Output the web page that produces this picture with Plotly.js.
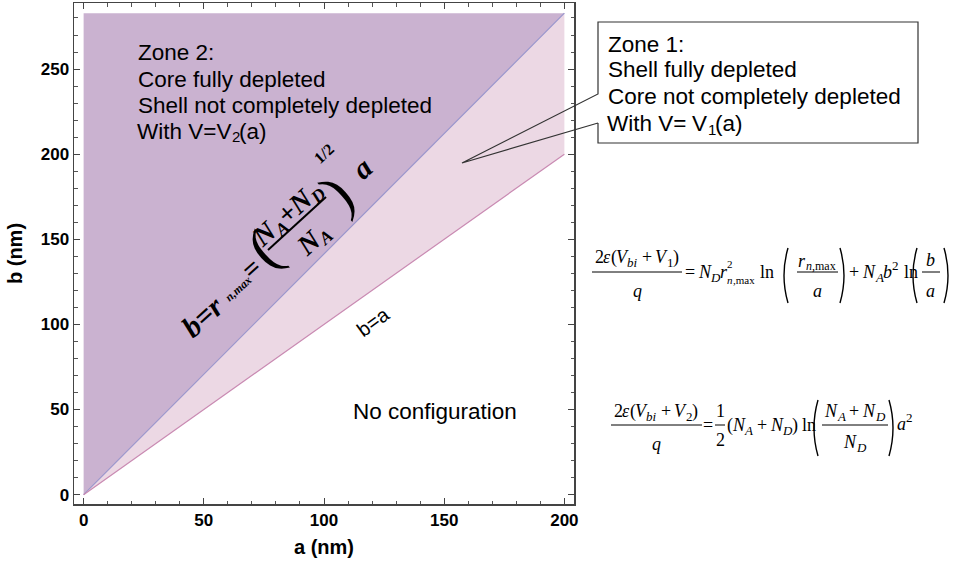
<!DOCTYPE html>
<html>
<head>
<meta charset="utf-8">
<script src="https://cdn.plot.ly/plotly-3.0.1.min.js"></script>
<style>html,body{margin:0;padding:0;background:#fff;}#chart{width:963px;height:563px;}</style>
</head>
<body>
<div id="chart"></div>
<script>
// ---- data ----
const aEnds = [0, 200];                 // a (nm) at the ends of the boundary lines
const bRmaxLine = [0, 282.84];          // b = r_max = sqrt((NA+ND)/NA) a  (NA = ND)
const bEqualLine = [0, 200];            // b = a
const xTickVals = [0, 50, 100, 150, 200];
const yTickVals = [0, 50, 100, 150, 200, 250];
const zone2Lines = ["Zone 2:", "Core fully depleted", "Shell not completely depleted"];
const zone1Lines = ["Zone 1:", "Shell fully depleted", "Core not completely depleted"];

// ---- layout helpers (pixel -> paper) ----
const W = 963, H = 563, L = 74, R = 389, T = 3, B = 59;
const PW = W - L - R, PH = H - T - B;
const px = x => (x - L) / PW;
const py = y => (H - B - y) / PH;

const sans = "Liberation Sans";
const serif = "Liberation Serif";

const annotations = [];
const shapes = [];
function ann(x, y, text, o) {
  o = o || {};
  annotations.push({
    xref: 'paper', yref: 'paper', x: px(x), y: py(y), text: text, showarrow: false, borderpad: 0,
    xanchor: o.xa || 'center', yanchor: o.ya || 'middle', textangle: o.angle || 0,
    font: { family: o.family || sans, size: o.size || 22.5, color: '#000', weight: o.weight || 'normal', style: o.style || 'normal' }
  });
}
function line(x0, y0, x1, y1, w, c) {
  shapes.push({ type: 'line', xref: 'paper', yref: 'paper', x0: px(x0), y0: py(y0), x1: px(x1), y1: py(y1),
    line: { color: c || '#000', width: w || 1 } });
}
function path(pts, w, c) {
  let d = pts.map((p, i) => (i ? 'L' : 'M') + px(p[0]) + ',' + py(p[1])).join(' ');
  shapes.push({ type: 'path', xref: 'paper', yref: 'paper', path: d, line: { color: c || '#000', width: w || 1 } });
}
function paren(xc, yt, yb, open) {
  const s = open ? 1 : -1;
  const d = 'M' + px(xc + 3 * s) + ',' + py(yt) + ' Q' + px(xc - 5 * s) + ',' + py((yt + yb) / 2) + ' ' + px(xc + 3 * s) + ',' + py(yb);
  shapes.push({ type: 'path', xref: 'paper', yref: 'paper', path: d, line: { color: '#000', width: 1.4 } });
}

// ---- text rows made of plain pieces (each piece its own sized text) ----
const cvs = document.createElement('canvas').getContext('2d');
function measure(t, size, italic, bold, family) {
  cvs.font = (italic ? 'italic ' : '') + (bold ? 'bold ' : '') + size + 'px "' + family + '"';
  return cvs.measureText(t).width;
}
// piece: {t, s(size), i(italic), dy(offset, px, downwards), gap(px), adv(false = no advance)}
function row(cx, cy, pieces, o) {
  o = o || {};
  const fam = o.family || serif, bold = !!o.bold, angle = o.angle || 0;
  const th = angle * Math.PI / 180;
  const ux = Math.cos(th), uy = Math.sin(th), nx = -Math.sin(th), ny = Math.cos(th);
  const widths = pieces.map(p => p.gap !== undefined ? p.gap : measure(p.t, p.s, p.i, bold, fam));
  const total = pieces.reduce((a, p, k) => a + (p.adv === false ? 0 : widths[k]), 0);
  let cur = o.left ? 0 : -total / 2;
  pieces.forEach((p, k) => {
    const w = widths[k];
    if (p.gap === undefined) {
      const along = cur + w / 2, d = p.dy || 0;
      ann(cx + ux * along + nx * d, cy + uy * along + ny * d, p.t,
        { family: fam, size: p.s, style: p.i ? 'italic' : 'normal', weight: bold ? 'bold' : 'normal', angle: angle });
    }
    if (p.adv !== false) cur += w;
  });
}
const E = 18, S = 13;
const n = (t, s) => ({ t: t, s: s || E });
const i = (t, s) => ({ t: t, s: s || E, i: true });
const sub = (t, it, s) => ({ t: t, s: s || S, i: !!it, dy: 5 });
const sup = (t, s) => ({ t: t, s: s || S, dy: -7 });
const g = w => ({ gap: w });

// ---- zone texts ----
const z2y = [53, 79, 105, 131];
zone2Lines.forEach((t, k) => ann(137, z2y[k], t, { xa: 'left' }));
row(137, z2y[3], [n("With V=V", 22.5), { t: "2", s: 15, dy: 6 }, n("(a)", 22.5)], { left: true, family: sans });
const z1y = [44, 70, 97, 123];
zone1Lines.forEach((t, k) => ann(607, z1y[k], t, { xa: 'left' }));
row(607, z1y[3], [n("With V=", 22.5), g(6), n("V", 22.5), { t: "1", s: 15, dy: 6 }, n("(a)", 22.5)], { left: true, family: sans });
ann(435, 411, "No configuration");
ann(373, 322, "b=a", { angle: -36, size: 20 });

// callout box
path([[598, 123], [462, 163], [598, 94], [598, 22], [918, 22], [918, 143], [598, 143], [598, 123]], 1.2, '#333');

// rotated formula along b = r_max line
const ang = -42;
const fb = { family: serif, style: 'italic', weight: 'bold', angle: ang };
ann(202, 316, "b=r", Object.assign({}, fb, { size: 30 }));
ann(238, 289, "n,max", Object.assign({}, fb, { size: 12 }));
ann(251, 268, "=", Object.assign({}, fb, { size: 28, style: 'normal' }));
ann(262, 249, "(", Object.assign({}, fb, { size: 58, style: 'normal', weight: 'normal' }));
row(287, 213, [i("N", 28), { t: "A", s: 18, i: true, dy: 8 }, n("+", 28), i("N", 28), { t: "D", s: 18, i: true, dy: 8 }],
  { angle: ang, bold: true });
row(313, 238, [i("N", 28), { t: "A", s: 18, i: true, dy: 8 }], { angle: ang, bold: true });
ann(336, 193, ")", Object.assign({}, fb, { size: 58, style: 'normal', weight: 'normal' }));
ann(324, 154, "1/2", Object.assign({}, fb, { size: 16, style: 'normal' }));
ann(361, 168, "a", Object.assign({}, fb, { size: 30 }));
line(268, 250, 326, 197, 2);

// ---- equation 1 ----
row(637, 257, [n("2"), i("ε"), n("("), i("V"), sub("bi", true), g(4), n("+"), g(4), i("V"), sub("1"), n(")")]);
line(592, 272, 682, 272, 1);
row(637, 291, [i("q")]);
row(685, 272, [n("="), g(4), i("N"), sub("D", true), i("r"), { t: "2", s: 11, dy: -8, adv: false },
  { t: "n", s: 11, i: true, dy: 8 }, { t: ",max", s: 11, dy: 8 }, g(5), n("ln")], { left: true });
paren(785, 248, 303, true);
row(817, 261, [i("r"), sub("n", true, 12), sub(",max", false, 12)]);
line(797, 272, 838, 272, 1);
row(817, 291, [i("a")]);
paren(843, 248, 303, false);
row(849, 272, [n("+"), g(4), i("N"), sub("A", true), i("b"), sup("2"), g(5), n("ln")], { left: true });
paren(914, 248, 303, true);
row(930, 260, [i("b")]);
line(922, 272, 940, 272, 1);
row(930, 291, [i("a")]);
paren(947, 248, 303, false);

// ---- equation 2 ----
row(656, 411, [n("2"), i("ε"), n("("), i("V"), sub("bi", true), g(4), n("+"), g(4), i("V"), sub("2"), n(")")]);
line(611, 425, 702, 425, 1);
row(656, 444, [i("q")]);
row(708, 425, [n("=")]);
row(720, 411, [n("1")]);
line(715, 425, 725, 425, 1);
row(720, 440, [n("2")]);
row(727, 425, [n("("), i("N"), sub("A", true), g(4), n("+"), g(4), i("N"), sub("D", true), n(")"), g(4), n("ln")], { left: true });
paren(815, 400, 456, true);
row(855, 411, [i("N"), sub("A", true), g(4), n("+"), g(4), i("N"), sub("D", true)]);
line(822, 425, 888, 425, 1);
row(855, 442, [i("N"), sub("D", true)]);
paren(892, 400, 456, false);
row(897, 424, [i("a"), sup("2")], { left: true });

// ---- traces ----
const traces = [
  { x: [aEnds[0], aEnds[1], aEnds[1]], y: [bEqualLine[0], bEqualLine[1], bRmaxLine[1]],
    fill: 'toself', fillcolor: '#ecd8e4', mode: 'none', hoverinfo: 'skip' },
  { x: [aEnds[0], aEnds[1], aEnds[0]], y: [bRmaxLine[0], bRmaxLine[1], bRmaxLine[1]],
    fill: 'toself', fillcolor: '#cab2d0', mode: 'none', hoverinfo: 'skip' },
  { x: aEnds, y: bRmaxLine, mode: 'lines', line: { color: '#9a96cc', width: 1.2 } },
  { x: aEnds, y: bEqualLine, mode: 'lines', line: { color: '#c98ab2', width: 1.2 } }
];

const axisCommon = {
  showgrid: false, zeroline: false, showline: true, linecolor: '#444', linewidth: 1.5,
  mirror: 'allticks', ticks: 'inside', ticklen: 6, tickwidth: 1, tickcolor: '#444',
  tickfont: { family: sans, size: 17, color: '#000', weight: 'bold' },
  minor: { dtick: 10, ticks: 'inside', ticklen: 3.5, tickwidth: 1, tickcolor: '#555', showgrid: false },
  automargin: false, fixedrange: true
};

const layout = {
  width: W, height: H, margin: { l: L, r: R, t: T, b: B },
  paper_bgcolor: '#fff', plot_bgcolor: '#fff', showlegend: false,
  xaxis: Object.assign({}, axisCommon, { range: [-4, 204], tickvals: xTickVals,
    title: { text: 'a (nm)', font: { family: sans, size: 20, color: '#000', weight: 'bold' }, standoff: 11 } }),
  yaxis: Object.assign({}, axisCommon, { range: [-5.5, 288.8], tickvals: yTickVals,
    title: { text: 'b (nm)', font: { family: sans, size: 20, color: '#000', weight: 'bold' }, standoff: 12 } }),
  annotations: annotations, shapes: shapes
};

Plotly.newPlot('chart', traces, layout, { displayModeBar: false, staticPlot: true });
</script>
</body>
</html>
